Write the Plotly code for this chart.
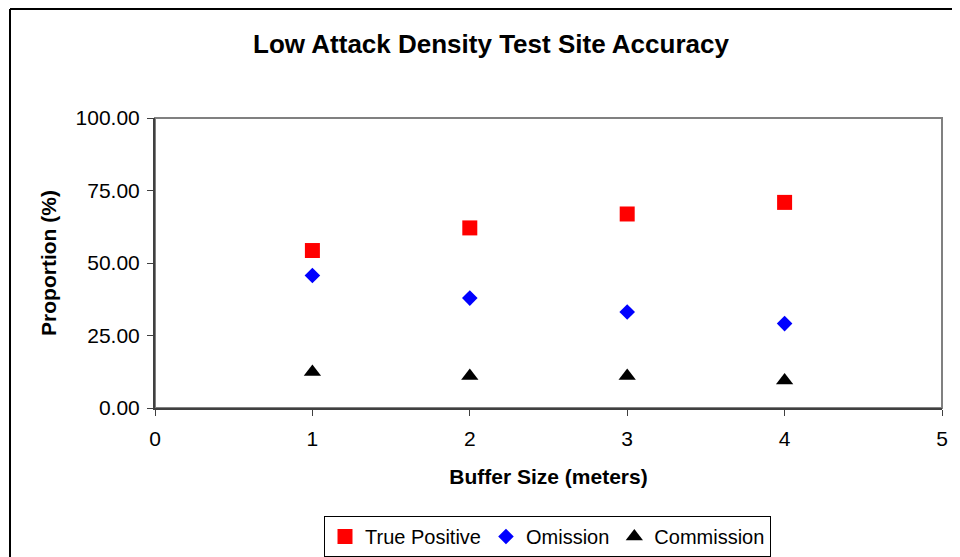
import plotly.graph_objects as go

buffer_size = [1, 2, 3, 4]
true_positive = [54.3, 62.1, 66.9, 70.9]
omission = [45.7, 37.9, 33.1, 29.1]
commission = [12.4, 11.0, 11.0, 9.5]

x_ticks = [0, 1, 2, 3, 4, 5]
y_ticks = [0, 25, 50, 75, 100]

FONT = "Arial, Liberation Sans, sans-serif"

# page offset (browser body margin)
OFF = 8
W, H = 960 - OFF, 557 - OFF
# plot area in figure pixels
L, R, T, B = 155 - OFF, 942 - OFF, 118 - OFF, 408 - OFF
pw, ph = R - L, B - T

def px(x):
    return (x - OFF - L) / pw

def py(y):
    return (B - (y - OFF)) / ph

fig = go.Figure()
fig.add_trace(go.Scatter(x=buffer_size, y=true_positive, mode="markers", name="True Positive",
                         marker=dict(symbol="square", size=15, color="#ff0000")))
fig.add_trace(go.Scatter(x=buffer_size, y=omission, mode="markers", name="Omission",
                         marker=dict(symbol="diamond", size=12, color="#0000ff")))
fig.add_trace(go.Scatter(x=buffer_size, y=commission, mode="markers", name="Commission",
                         marker=dict(symbol="triangle-up", size=15, color="#000000")))

fig.update_layout(
    width=W, height=H,
    margin=dict(l=L, r=W - R, t=T, b=H - B, pad=0, autoexpand=False),
    paper_bgcolor="white", plot_bgcolor="white",
    font=dict(family=FONT, color="black", size=21),
    title=dict(text="<b>Low Attack Density Test Site Accuracy</b>", x=px(491), xref="paper",
               xanchor="center", y=(H - (44 - OFF)) / H, yanchor="middle", yref="container",
               font=dict(size=26, family=FONT, color="black")),
    xaxis=dict(range=[0, 5], tickvals=x_ticks, ticktext=[str(v) for v in x_ticks],
               showgrid=False, zeroline=False, showline=True, linecolor="#404040", linewidth=2,
               ticks="outside", ticklen=6, tickcolor="#404040", tickwidth=1,
               ticklabelstandoff=5,
               tickfont=dict(size=21, family=FONT),
               title=dict(text="<b>Buffer Size (meters)</b>", font=dict(size=21, family=FONT), standoff=20)),
    yaxis=dict(range=[0, 100], tickvals=y_ticks, ticktext=["%.2f" % v for v in y_ticks],
               showgrid=False, zeroline=False, showline=True, linecolor="#404040", linewidth=2,
               ticks="outside", ticklen=6, tickcolor="#404040", tickwidth=1,
               ticklabelstandoff=3,
               tickfont=dict(size=21, family=FONT),
               title=dict(text="<b>Proportion (%)</b>", font=dict(size=21, family=FONT), standoff=13)),
    legend=dict(orientation="h", x=px(547.5), xanchor="center", y=py(516), yanchor="top",
                bordercolor="black", borderwidth=1, bgcolor="white",
                font=dict(size=20, family=FONT), itemsizing="trace"),
    showlegend=True,
)

# plot-area border (gray, top and right)
fig.add_shape(type="rect", xref="paper", yref="paper", x0=0, y0=0, x1=1, y1=1,
              line=dict(color="#808080", width=2), layer="below")
# outer chart border: only its top and left edges fall inside the view
fig.add_shape(type="line", xref="paper", yref="paper",
              x0=px(10), y0=py(9), x1=px(1000), y1=py(9),
              line=dict(color="black", width=2))
fig.add_shape(type="line", xref="paper", yref="paper",
              x0=px(10), y0=py(9), x1=px(10), y1=py(600),
              line=dict(color="black", width=2))

fig.write_html("out.html")
